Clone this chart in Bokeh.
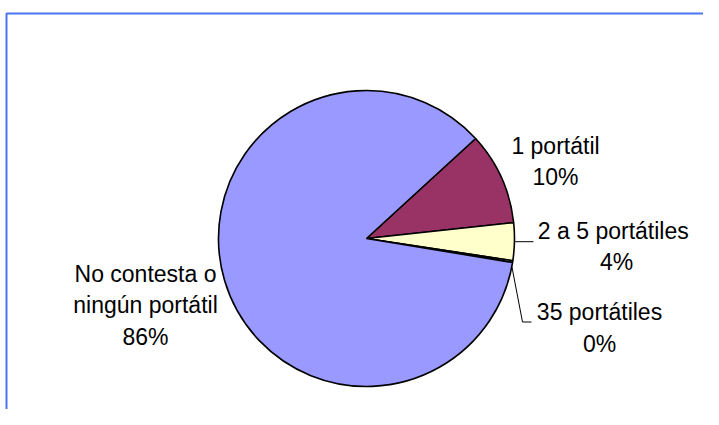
import numpy as np
from bokeh.plotting import figure
from bokeh.models import Range1d
from bokeh.core.properties import value
from bokeh.embed import file_html
from bokeh.resources import INLINE

# ---- data ----
categories = ["1 portátil", "2  a 5 portátiles", "35 portátiles", "No contesta o ningún portátil"]
shares = [10.1, 4.1, 0.2, 85.6]
colors = ["#993366", "#FFFFCC", "#CCFFFF", "#9999FF"]
label_lines = [["1 portátil"], ["2  a 5 portátiles"], ["35 portátiles"], ["No contesta o", "ningún portátil"]]

# ---- layout (screen pixels) ----
W, H = 703, 409
cx, cy, r = 366, 238, 148
start_deg = 42.5
font = value("Liberation Sans")
fsize = "23px"

def Y(sy):
    return H - sy

p = figure(width=W, height=H, output_backend="svg", toolbar_location=None,
           x_range=Range1d(0, W), y_range=Range1d(0, H),
           min_border=0, outline_line_color=None)
p.axis.visible = False
p.grid.visible = False
p.background_fill_color = "white"
p.border_fill_color = "white"

# frame
p.line([6, 6, W], [Y(H + 5), Y(13), Y(13)], line_color="#4a74f0", line_width=2)

# pie
vals = np.array(shares, dtype=float)
frac = vals / vals.sum()
cum = np.concatenate([[0], np.cumsum(frac)])
starts = np.radians(start_deg - cum[1:] * 360)
ends = np.radians(start_deg - cum[:-1] * 360)
p.wedge(x=[cx] * 4, y=[Y(cy)] * 4, radius=r, radius_units="screen",
        start_angle=list(starts), end_angle=list(ends), direction="anticlock",
        fill_color=colors, line_color="black", line_width=1.6)

pct = [f"{int(round(v))}%" for v in shares]

# label positions (center x, first baseline y)
pos = [(555, 145), (616, 230), (599, 311.5), (145, 273)]
lh = 31.7
xs, ys, ts = [], [], []
for (lx, ly), lines, pc in zip(pos, label_lines, pct):
    allines = lines + [pc]
    for k, t in enumerate(allines):
        xs.append(lx)
        ys.append(Y(ly + k * lh))
        ts.append(t)
p.text(x=xs, y=ys, text=ts, text_font=font, text_font_size=fsize,
       text_align="center", text_baseline="alphabetic", text_color="black")

# leader lines
mid = np.radians(start_deg - (cum[1:] + cum[:-1]) / 2 * 360)
m1 = mid[1]
p.line([cx + r * np.cos(m1), 533], [Y(cy) + r * np.sin(m1)] * 2, line_color="black", line_width=1)
m2 = mid[2]
sx2, sy2 = cx + r * np.cos(m2) - 1, Y(cy) + r * np.sin(m2) - 4
p.line([sx2, 522, 531], [sy2, Y(321.5), Y(321.5)], line_color="black", line_width=1)

open("out.html", "w").write(file_html(p, INLINE))
